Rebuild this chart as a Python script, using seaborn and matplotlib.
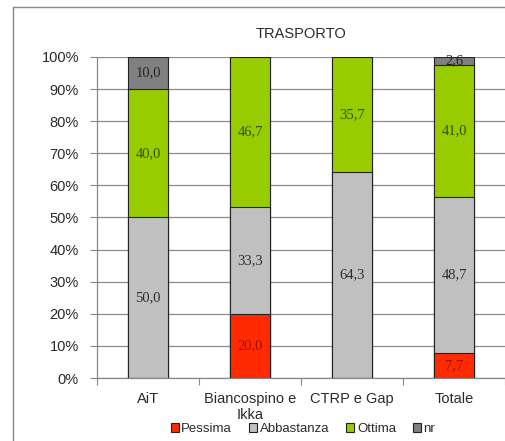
import matplotlib
matplotlib.use("Agg")
import matplotlib.pyplot as plt
from matplotlib.lines import Line2D
from matplotlib.patches import Patch
import numpy as np
import pandas as pd
import seaborn as sns

# Survey results for "TRASPORTO" (percent of answers per group)
categories = ["AiT", "Biancospino e\nIkka", "CTRP e Gap", "Totale"]
pessima = [0.0, 20.0, 0.0, 7.7]
abbastanza = [50.0, 33.3, 64.3, 48.7]
ottima = [40.0, 46.7, 35.7, 41.0]
nr = [10.0, 0.0, 0.0, 2.6]

series_names = ["Pessima", "Abbastanza", "Ottima", "nr"]
series_values = [pessima, abbastanza, ottima, nr]
fill_colors = ["#FF2A00", "#C0C0C0", "#99CC00", "#808080"]
text_colors = ["#A01000", "#2E2E2E", "#2E5500", "#262626"]

sns.set_theme(style="white")
plt.rcParams["font.family"] = ["Liberation Sans", "DejaVu Sans"]

fig = plt.figure(figsize=(5.05, 4.41), dpi=100)
ax = fig.add_axes([97 / 505, 63 / 441, 408 / 505, 321 / 441])

# Stack by drawing cumulative totals from the top segment down
vals = np.array(series_values)
cum = np.cumsum(vals, axis=0)
for i in range(len(series_names) - 1, -1, -1):
    df = pd.DataFrame({"cat": categories, "val": cum[i]})
    sns.barplot(data=df, x="cat", y="val", color=fill_colors[i], width=0.4,
                edgecolor="#222222", linewidth=0.8, saturation=1, ax=ax,
                zorder=3)

# Value labels at the centre of each segment
for i in range(len(series_names)):
    for j in range(len(categories)):
        v = vals[i, j]
        if v <= 0:
            continue
        y = cum[i, j] - v / 2
        ax.text(j, y, f"{v:.1f}".replace(".", ","), ha="center", va="center",
                fontsize=10.5, family=["Liberation Serif", "DejaVu Serif"],
                color=text_colors[i], zorder=5)

ax.set_xlim(-0.5, 3.5)
ax.set_ylim(0, 100)
ax.set_yticks(np.arange(0, 101, 10))
ax.set_yticklabels([f"{t}%" for t in range(0, 101, 10)], fontsize=10.5,
                   color="#2A2A2A")
ax.set_xlabel("")
ax.set_ylabel("")
ax.set_xticks(range(len(categories)))
ax.set_xticklabels(categories, fontsize=10.5, color="#2A2A2A")
ax.tick_params(axis="x", length=0, pad=10)
ax.tick_params(axis="y", length=5, width=0.8, color="#888888", pad=8,
               direction="out", left=True)
# small separators between categories on the x axis
ax.set_xticks([-0.5, 0.5, 1.5, 2.5, 3.5], minor=True)
ax.tick_params(axis="x", which="minor", length=5, width=0.8,
               color="#888888", direction="out", bottom=True)

ax.yaxis.grid(True, color="#8C8C8C", linewidth=0.9, zorder=0)
ax.set_axisbelow(True)
for side in ["top", "right"]:
    ax.spines[side].set_visible(False)
for side in ["left", "bottom"]:
    ax.spines[side].set_visible(True)
    ax.spines[side].set_color("#888888")
    ax.spines[side].set_linewidth(0.9)

ax.set_title("TRASPORTO", fontsize=10.5, color="#2A2A2A", pad=14)

# Legend below the plot
handles = [Patch(facecolor=c, edgecolor="#222222", linewidth=0.8)
           for c in fill_colors]
fig.legend(handles, series_names, loc="center", ncol=4,
           bbox_to_anchor=(0.6, 1 - 429 / 441), frameon=False,
           fontsize=9.5, handlelength=0.6, handleheight=0.6,
           handletextpad=0.2, columnspacing=1.3, labelcolor="#2A2A2A")

# Outer chart frame
fig.add_artist(Line2D([13 / 505, 13 / 505], [0, 1 - 7 / 441],
                      transform=fig.transFigure, color="#888888", linewidth=1))
fig.add_artist(Line2D([13 / 505, 1], [1 - 7 / 441, 1 - 7 / 441],
                      transform=fig.transFigure, color="#888888", linewidth=1))

fig.savefig("out.png", dpi=100)
